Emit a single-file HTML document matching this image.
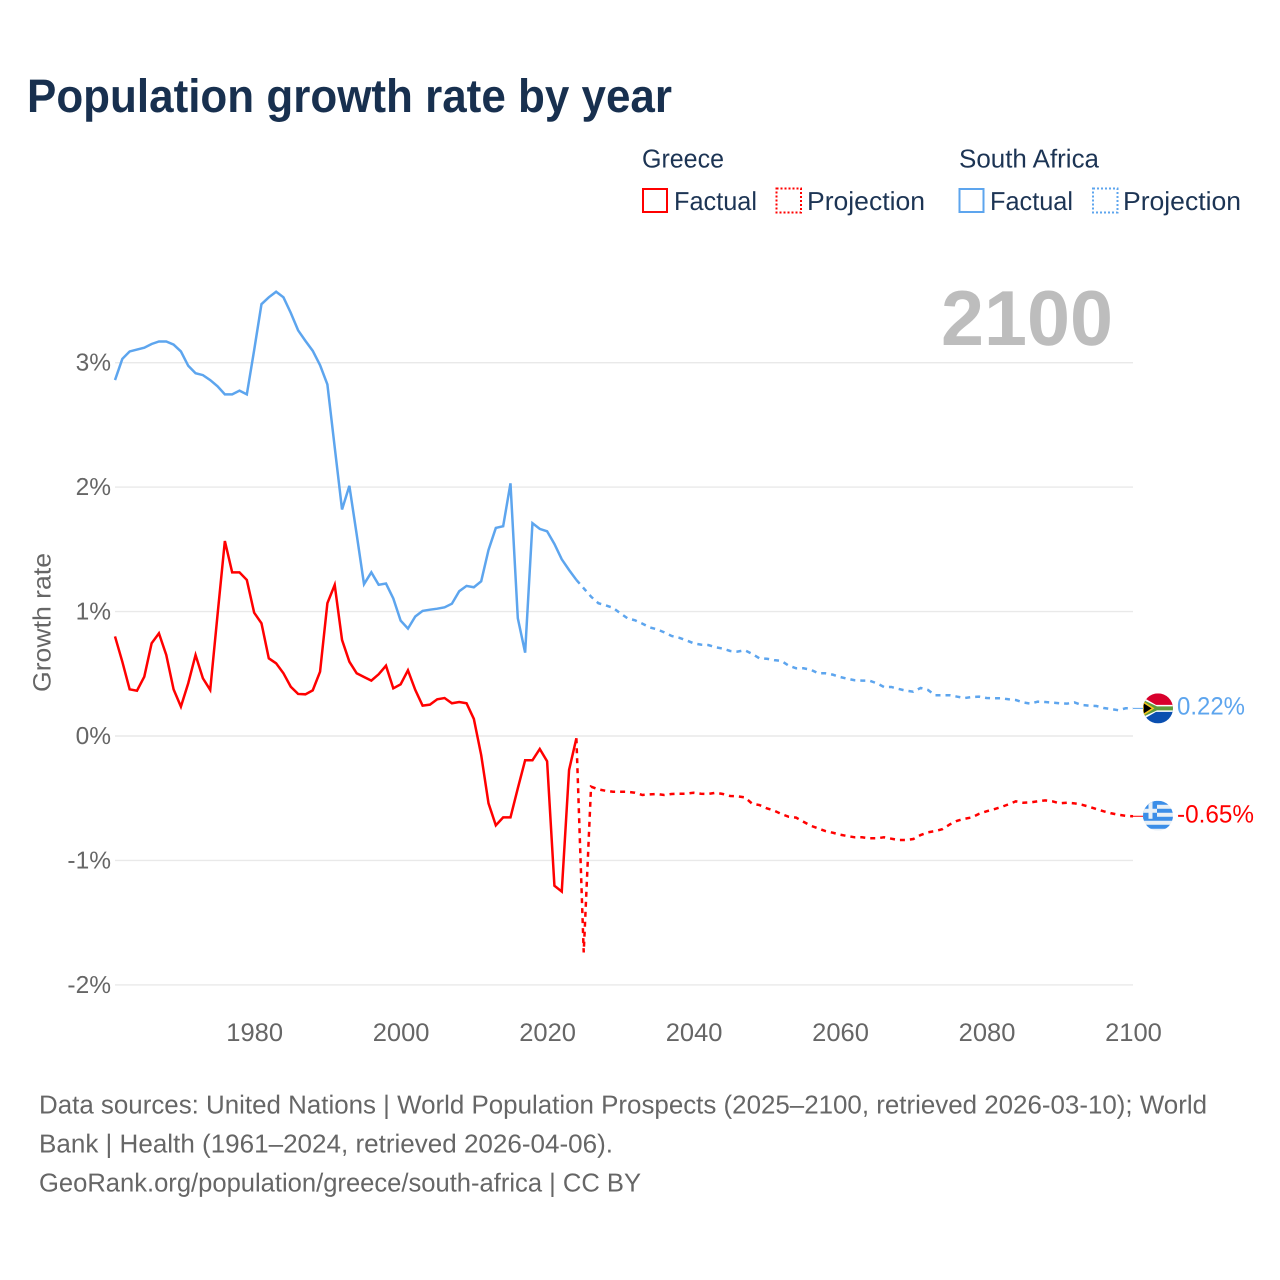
<!DOCTYPE html>
<html lang="en">
<head>
<meta charset="utf-8">
<title>Population growth rate by year</title>
<style>
  html, body { margin: 0; padding: 0; background: #ffffff; }
  svg { display: block; }
  text { font-family: "Liberation Sans", "DejaVu Sans", sans-serif; text-rendering: geometricPrecision; }
</style>
</head>
<body>
<svg id="chart" xmlns="http://www.w3.org/2000/svg" width="1280" height="1280" viewBox="0 0 1280 1280">
  <defs>
    <clipPath id="clip-za"><circle cx="0" cy="0" r="15"/></clipPath>
    <clipPath id="clip-gr"><circle cx="0" cy="0" r="15"/></clipPath>
  </defs>

  <text x="27" y="112" font-size="47" font-weight="700" fill="#18304f" textLength="645" lengthAdjust="spacingAndGlyphs">Population growth rate by year</text>

  <g>
    <text x="642" y="167.5" font-size="26" fill="#1c3454" textLength="82" lengthAdjust="spacingAndGlyphs">Greece</text>
    <text x="959" y="167.5" font-size="26" fill="#1c3454" textLength="140" lengthAdjust="spacingAndGlyphs">South Africa</text>

    <rect x="643" y="189" width="24" height="23" fill="none" stroke="#ff0000" stroke-width="2"/>
    <text x="674" y="210" font-size="26" fill="#1c3454" textLength="83" lengthAdjust="spacingAndGlyphs">Factual</text>
    <rect x="776.5" y="188.5" width="24.5" height="24" fill="none" stroke="#ff0000" stroke-width="2" stroke-dasharray="2 2"/>
    <text x="807" y="210" font-size="26" fill="#1c3454" textLength="118" lengthAdjust="spacingAndGlyphs">Projection</text>

    <rect x="959.5" y="189" width="24" height="23" fill="none" stroke="#5da5ee" stroke-width="2"/>
    <text x="990" y="210" font-size="26" fill="#1c3454" textLength="83" lengthAdjust="spacingAndGlyphs">Factual</text>
    <rect x="1093" y="188.5" width="24.5" height="24" fill="none" stroke="#5da5ee" stroke-width="2" stroke-dasharray="2 2"/>
    <text x="1123" y="210" font-size="26" fill="#1c3454" textLength="118" lengthAdjust="spacingAndGlyphs">Projection</text>
  </g>

  <text x="941" y="345" font-size="78" font-weight="700" fill="#bdbdbd" textLength="172" lengthAdjust="spacingAndGlyphs">2100</text>

  <g id="grid"></g>
  <g id="y-axis"></g>
  <g id="x-axis"></g>
  <text transform="translate(50.5,622.5) rotate(-90)" text-anchor="middle" font-size="25" fill="#666666" textLength="139" lengthAdjust="spacingAndGlyphs">Growth rate</text>

  <g id="series"></g>

  <g id="flag-za">
    <g clip-path="url(#clip-za)">
      <rect x="-15" y="-15" width="30" height="15" fill="#d8002c"/>
      <rect x="-15" y="0" width="30" height="15" fill="#0a4fb0"/>
      <path d="M-15,-11 L-2,-3.5 L15,-3.5 L15,3.5 L-2,3.5 L-15,11 Z" fill="#ffffff"/>
      <path d="M-15,-8.5 L-1,-2 L15,-2 L15,2 L-1,2 L-15,8.5 Z" fill="#5f9c3a"/>
      <path d="M-15,-6.5 L-5,0 L-15,6.5 Z" fill="#000000" stroke="#f6c51e" stroke-width="1.6"/>
    </g>
  </g>
  <g id="flag-gr">
    <g clip-path="url(#clip-gr)">
      <rect x="-15" y="-15" width="30" height="30" fill="#e9f0f6"/>
      <rect x="-15" y="-15" width="30" height="4" fill="#3b8ee8"/>
      <rect x="-15" y="-7" width="30" height="4" fill="#3b8ee8"/>
      <rect x="-15" y="1" width="30" height="4" fill="#3b8ee8"/>
      <rect x="-15" y="9" width="30" height="4" fill="#3b8ee8"/>
      <rect x="-15" y="-15" width="14" height="18" fill="#3b8ee8"/>
      <rect x="-9.5" y="-15" width="4" height="18" fill="#e9f0f6"/>
      <rect x="-15" y="-7" width="14" height="4" fill="#e9f0f6"/>
    </g>
  </g>
  <g id="end-labels"></g>

  <g>
    <text x="39" y="1113.5" font-size="26" fill="#666666" textLength="1168" lengthAdjust="spacingAndGlyphs">Data sources: United Nations | World Population Prospects (2025–2100, retrieved 2026-03-10); World</text>
    <text x="39" y="1152.5" font-size="26" fill="#666666" textLength="574" lengthAdjust="spacingAndGlyphs">Bank | Health (1961–2024, retrieved 2026-04-06).</text>
    <text x="39" y="1191.5" font-size="26" fill="#666666" textLength="602" lengthAdjust="spacingAndGlyphs">GeoRank.org/population/greece/south-africa | CC BY</text>
  </g>
</svg>

<script>
const factualStartYear = 1961;
const projectionStartYear = 2025;
const endYear = 2100;

const xTickYears = [1980, 2000, 2020, 2040, 2060, 2080, 2100];
const xTickLabels = ["1980", "2000", "2020", "2040", "2060", "2080", "2100"];
const yTickValues = [3, 2, 1, 0, -1, -2];
const yTickLabels = ["3%", "2%", "1%", "0%", "-1%", "-2%"];

const greeceFactual = [
  0.80, 0.597, 0.375, 0.364, 0.477, 0.745, 0.825, 0.651, 0.375, 0.236,
  0.424, 0.651, 0.464, 0.37, 0.973, 1.567, 1.315, 1.315, 1.254, 0.991,
  0.906, 0.624, 0.584, 0.504, 0.396, 0.338, 0.335, 0.367, 0.517, 1.067,
  1.214, 0.772, 0.597, 0.504, 0.474, 0.445, 0.496, 0.565, 0.383, 0.415,
  0.528, 0.37, 0.244, 0.252, 0.295, 0.305, 0.263, 0.273, 0.263, 0.137,
  -0.153, -0.541, -0.718, -0.654, -0.654, -0.42, -0.195, -0.195, -0.104, -0.203,
  -1.203, -1.25, -0.273, -0.018
];
const greeceProjection = [
  -1.739, -0.407, -0.429, -0.44, -0.448, -0.448, -0.448, -0.456, -0.474, -0.469,
  -0.466, -0.474, -0.466, -0.464, -0.464, -0.456, -0.464, -0.466, -0.456, -0.466,
  -0.482, -0.485, -0.493, -0.544, -0.555, -0.581, -0.6, -0.627, -0.649, -0.656,
  -0.689, -0.721, -0.742, -0.764, -0.777, -0.793, -0.804, -0.814, -0.814, -0.822,
  -0.822, -0.814, -0.825, -0.836, -0.836, -0.828, -0.796, -0.774, -0.764, -0.748,
  -0.71, -0.681, -0.665, -0.654, -0.625, -0.605, -0.589, -0.571, -0.549, -0.525,
  -0.536, -0.533, -0.525, -0.517, -0.525, -0.541, -0.536, -0.541, -0.552, -0.568,
  -0.587, -0.605, -0.621, -0.633, -0.641, -0.645
];
const southAfricaFactual = [
  2.86, 3.03, 3.09, 3.105, 3.12, 3.15, 3.17, 3.17, 3.145, 3.09,
  2.975, 2.915, 2.90, 2.86, 2.81, 2.745, 2.745, 2.775, 2.745, 3.10,
  3.47, 3.525, 3.57, 3.525, 3.40, 3.26, 3.175, 3.095, 2.98, 2.825,
  2.32, 1.82, 2.01, 1.62, 1.22, 1.315, 1.215, 1.225, 1.105, 0.927,
  0.863, 0.96, 1.005, 1.015, 1.023, 1.034, 1.063, 1.163, 1.206, 1.195,
  1.243, 1.495, 1.672, 1.686, 2.03, 0.946, 0.67, 1.71, 1.664, 1.645,
  1.543, 1.42, 1.334, 1.254
];
const southAfricaProjection = [
  1.187, 1.12, 1.067, 1.05, 1.03, 0.986, 0.945, 0.93, 0.903, 0.873,
  0.857, 0.833, 0.804, 0.79, 0.769, 0.745, 0.734, 0.731, 0.713, 0.702,
  0.683, 0.678, 0.689, 0.66, 0.624, 0.621, 0.61, 0.603, 0.565, 0.544,
  0.544, 0.533, 0.504, 0.504, 0.493, 0.474, 0.46, 0.448, 0.445, 0.445,
  0.424, 0.394, 0.394, 0.378, 0.364, 0.356, 0.386, 0.37, 0.327, 0.327,
  0.327, 0.316, 0.305, 0.313, 0.316, 0.305, 0.303, 0.303, 0.295, 0.289,
  0.27, 0.26, 0.276, 0.273, 0.268, 0.263, 0.26, 0.27, 0.249, 0.244,
  0.241, 0.225, 0.217, 0.207, 0.223, 0.222
];
const endValueLabels = ["0.22%", "-0.65%"];

const SVG_NS = "http://www.w3.org/2000/svg";
const plotLeft = 115;
const plotRight = 1133;

function xScale(year) {
  return 115 + (year - factualStartYear) * (1133 - 115) / (endYear - factualStartYear);
}
function yScale(value) {
  return 736 - value * 124.45;
}
function linePath(startYear, values, lead) {
  let points = [];
  if (lead !== undefined) {
    points.push(xScale(startYear - 1).toFixed(2) + "," + yScale(lead).toFixed(2));
  }
  values.forEach(function (v, i) {
    points.push(xScale(startYear + i).toFixed(2) + "," + yScale(v).toFixed(2));
  });
  return "M" + points.join(" L");
}

const gridGroup = document.getElementById("grid");
const yAxisGroup = document.getElementById("y-axis");
const xAxisGroup = document.getElementById("x-axis");
const seriesGroup = document.getElementById("series");
const endLabelGroup = document.getElementById("end-labels");

yTickValues.forEach(function (value, i) {
  const line = document.createElementNS(SVG_NS, "line");
  
  
  line.setAttribute("x1", plotLeft);
  line.setAttribute("x2", plotRight);
  line.setAttribute("y1", yScale(value));
  line.setAttribute("y2", yScale(value));
  line.setAttribute("stroke", "#e9e9e9");
  line.setAttribute("stroke-width", "1.4");
  gridGroup.appendChild(line);

  const label = document.createElementNS(SVG_NS, "text");
  
  
  label.setAttribute("x", 111);
  label.setAttribute("y", yScale(value) + 8);
  label.setAttribute("text-anchor", "end");
  label.setAttribute("font-size", "24.5");
  label.setAttribute("fill", "#666666");
  label.textContent = yTickLabels[i];
  yAxisGroup.appendChild(label);
});

xTickYears.forEach(function (year, i) {
  const label = document.createElementNS(SVG_NS, "text");
  
  
  label.setAttribute("x", xScale(year) + 0.5);
  label.setAttribute("y", 1041);
  label.setAttribute("text-anchor", "middle");
  label.setAttribute("font-size", "25.5");
  label.setAttribute("fill", "#666666");
  label.textContent = xTickLabels[i];
  xAxisGroup.appendChild(label);
});

const saFactualLine = document.createElementNS(SVG_NS, "path");


saFactualLine.setAttribute("d", linePath(factualStartYear, southAfricaFactual));
saFactualLine.setAttribute("fill", "none");
saFactualLine.setAttribute("stroke", "#5da5ee");
saFactualLine.setAttribute("stroke-width", "2.5");
saFactualLine.setAttribute("stroke-linejoin", "miter");
seriesGroup.appendChild(saFactualLine);

const saProjectionLine = document.createElementNS(SVG_NS, "path");


saProjectionLine.setAttribute("d", linePath(projectionStartYear, southAfricaProjection, southAfricaFactual[southAfricaFactual.length - 1]));
saProjectionLine.setAttribute("fill", "none");
saProjectionLine.setAttribute("stroke", "#5da5ee");
saProjectionLine.setAttribute("stroke-width", "2.5");
saProjectionLine.setAttribute("stroke-dasharray", "5 5");
seriesGroup.appendChild(saProjectionLine);

const grFactualLine = document.createElementNS(SVG_NS, "path");


grFactualLine.setAttribute("d", linePath(factualStartYear, greeceFactual));
grFactualLine.setAttribute("fill", "none");
grFactualLine.setAttribute("stroke", "#ff0000");
grFactualLine.setAttribute("stroke-width", "2.5");
seriesGroup.appendChild(grFactualLine);

const grProjectionLine = document.createElementNS(SVG_NS, "path");


grProjectionLine.setAttribute("d", linePath(projectionStartYear, greeceProjection, greeceFactual[greeceFactual.length - 1]));
grProjectionLine.setAttribute("fill", "none");
grProjectionLine.setAttribute("stroke", "#ff0000");
grProjectionLine.setAttribute("stroke-width", "2.5");
grProjectionLine.setAttribute("stroke-dasharray", "5 5");
seriesGroup.appendChild(grProjectionLine);

const saEndY = yScale(southAfricaProjection[southAfricaProjection.length - 1]);
const grEndY = yScale(greeceProjection[greeceProjection.length - 1]);

const saConnector = document.createElementNS(SVG_NS, "line");


saConnector.setAttribute("x1", xScale(endYear));
saConnector.setAttribute("x2", 1143);
saConnector.setAttribute("y1", saEndY);
saConnector.setAttribute("y2", saEndY);
saConnector.setAttribute("stroke", "#5da5ee");
saConnector.setAttribute("stroke-width", "1");
seriesGroup.appendChild(saConnector);

const grConnector = document.createElementNS(SVG_NS, "line");


grConnector.setAttribute("x1", xScale(endYear));
grConnector.setAttribute("x2", 1143);
grConnector.setAttribute("y1", grEndY);
grConnector.setAttribute("y2", grEndY);
grConnector.setAttribute("stroke", "#ff0000");
grConnector.setAttribute("stroke-width", "1");
seriesGroup.appendChild(grConnector);

document.getElementById("flag-za").setAttribute("transform", "translate(1158," + saEndY + ")");
document.getElementById("flag-gr").setAttribute("transform", "translate(1158," + (grEndY - 0.5) + ")");

const saEndLabel = document.createElementNS(SVG_NS, "text");


saEndLabel.setAttribute("x", 1177);
saEndLabel.setAttribute("y", saEndY + 6);
saEndLabel.setAttribute("font-size", "25");
saEndLabel.setAttribute("fill", "#5da5ee");
saEndLabel.setAttribute("textLength", "68");
saEndLabel.setAttribute("lengthAdjust", "spacingAndGlyphs");
saEndLabel.textContent = endValueLabels[0];
endLabelGroup.appendChild(saEndLabel);

const grEndLabel = document.createElementNS(SVG_NS, "text");


grEndLabel.setAttribute("x", 1177);
grEndLabel.setAttribute("y", grEndY + 6);
grEndLabel.setAttribute("font-size", "25");
grEndLabel.setAttribute("fill", "#ff0000");
grEndLabel.setAttribute("textLength", "77");
grEndLabel.setAttribute("lengthAdjust", "spacingAndGlyphs");
grEndLabel.textContent = endValueLabels[1];
endLabelGroup.appendChild(grEndLabel);
</script>
</body>
</html>
